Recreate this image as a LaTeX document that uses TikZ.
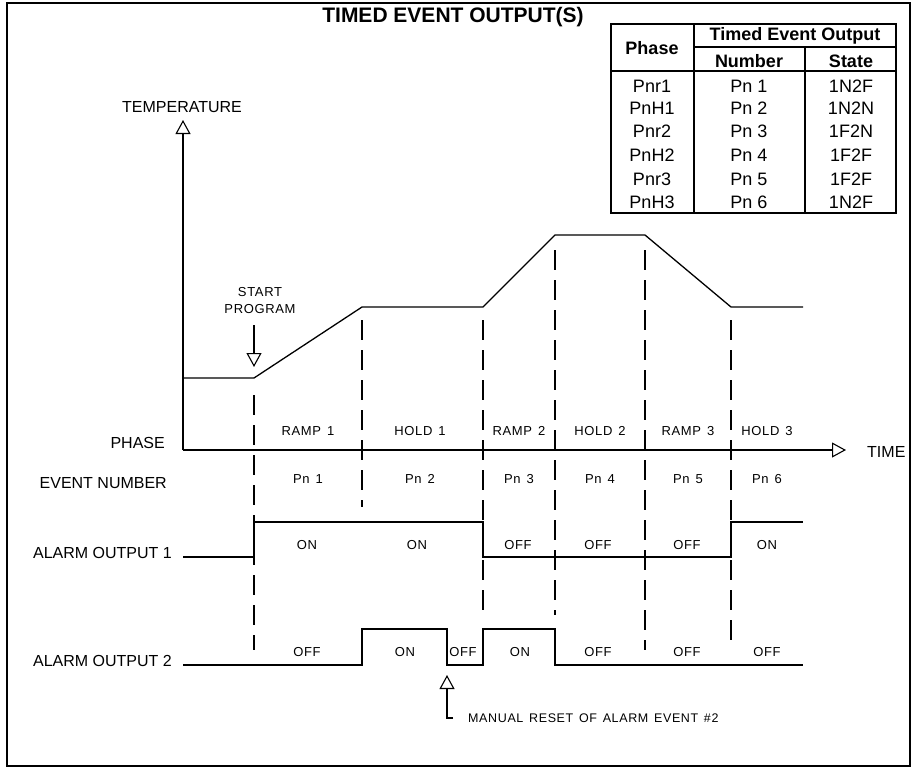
\documentclass[tikz,border=0pt]{standalone}
\usepackage{fontspec}
\setmainfont{Liberation Sans}
\newfontfamily\cadfont{Liberation Sans}[LetterSpace=5, WordSpace=1.4]
\usetikzlibrary{arrows.meta, positioning}
\tikzset{
  teo/line/.style   = {line width=1.3pt, line join=miter},
  teo/grid/.style   = {line width=1.1pt, dash pattern=on 20pt off 10pt},
  teo/arrow/.style  = {-{Triangle[open, length=14pt, width=15pt, line width=1.1pt]}, line width=1.2pt},
  teo/big/.style    = {font=\fontsize{16}{18}\selectfont, inner sep=0pt},
  teo/small/.style  = {font=\cadfont\fontsize{13}{15}\selectfont, inner sep=0pt},
  teo/note/.style   = {font=\cadfont\fontsize{12.5}{14}\selectfont, inner sep=0pt},
  teo/cell/.style   = {font=\fontsize{18}{20}\selectfont, inner sep=0pt},
  teo/head/.style   = {font=\fontsize{18}{20}\selectfont\bfseries, inner sep=0pt},
  teo/title/.style  = {font=\fontsize{21}{24}\selectfont\bfseries, inner sep=0pt},
}
\begin{document}
\begin{tikzpicture}[x=1pt, y=-1pt]
  \useasboundingbox (0,0) rectangle (914,769);
  % --- Time marks (phase boundaries) ---
  \def\xAxis {183}
  \def\xB    {254}
  \def\xC    {362}
  \def\xD    {483}
  \def\xE    {555}
  \def\xF    {645}
  \def\xG    {731}
  \def\xEnd  {803}
  \def\yAxis {450}
  % --- Outer frame and title ---
  \draw[line width=2.5pt] (7,3) rectangle (910,766);
  \node[teo/title] (title) at (453,17) {TIMED EVENT OUTPUT(S)};
  % --- Event table ---
  \draw[line width=2.4pt] (611,24) rectangle (896,213);
  \draw[line width=1.4pt] (694,24) -- (694,213);
  \draw[line width=1.4pt] (805,47) -- (805,213);
  \draw[line width=1.4pt] (694,47) -- (896,47);
  \draw[line width=1.4pt] (611,71) -- (896,71);
  \node[teo/head] (hPhase)  at (652,48) {Phase};
  \node[teo/head] (hTimed)  at (795,36) {Timed Event Output};
  \node[teo/head] (hNumber) at (749,61) {Number};
  \node[teo/head] (hState)  at (851,61) {State};
  \foreach \ph/\num/\st/\y [count=\i] in {Pnr1/Pn 1/1N2F/86, PnH1/Pn 2/1N2N/108, Pnr2/Pn 3/1F2N/131,
                                          PnH2/Pn 4/1F2F/155, Pnr3/Pn 5/1F2F/179, PnH3/Pn 6/1N2F/202}{
    \node[teo/cell] (tPh\i)  at (652,\y) {\ph};
    \node[teo/cell] (tNum\i) at (749,\y) {\num};
    \node[teo/cell] (tSt\i)  at (851,\y) {\st};
  }
  % --- Axes ---
  \coordinate (origin)  at (\xAxis,\yAxis);
  \coordinate (tempTip) at (\xAxis,120);
  \coordinate (timeTip) at (846,\yAxis);
  \draw[teo/arrow] (origin) -- (tempTip);
  \draw[teo/arrow] (origin) -- (timeTip);
  \node[teo/big] (temp) at (182,107) {TEMPERATURE};
  \node[teo/big, anchor=west] (time) at (867,452) {TIME};
  \node[teo/big, anchor=east] (phase) at (165,443) {PHASE};
  \node[teo/big, anchor=east] (event) at (167,483) {EVENT NUMBER};
  \node[teo/big, anchor=base east] (alarmA) at (172,558) {ALARM OUTPUT 1};
  \node[teo/big, anchor=base east] (alarmB) at (172,666) {ALARM OUTPUT 2};
  % --- Temperature profile ---
  \draw[teo/line] (\xAxis,378) -- (\xB,378) -- (\xC,307) -- (\xD,307) -- (\xE,235)
                  -- (\xF,235) -- (\xG,307) -- (\xEnd,307);
  % --- Start program marker ---
  \node[teo/small, align=center] (start) at (260,301) {START\\[2pt]PROGRAM};
  \coordinate (startFoot) at (\xB,325);
  \coordinate (startTip)  at (\xB,367);
  \draw[teo/arrow] (startFoot) -- (startTip);
  % --- Dashed phase boundaries ---
  \foreach \x/\ya/\yb in {\xB/395/650, \xC/320/507, \xD/320/615, \xE/250/615, \xF/250/650, \xG/320/650}
    \draw[teo/grid] (\x,\ya) -- (\x,\yb);
  % --- Phase names and event numbers ---
  \foreach \x/\t [count=\i] in {308/RAMP 1, 420/HOLD 1, 519/RAMP 2, 600/HOLD 2, 688/RAMP 3, 767/HOLD 3}
    \node[teo/small] (ph\i) at (\x,431) {\t};
  \foreach \x [count=\i] in {308, 420, 519, 600, 688, 767}
    \node[teo/small] (pn\i) at (\x,479) {Pn \i};
  % --- Alarm output 1 ---
  \draw[teo/line] (\xAxis,557) -- (\xB,557) -- (\xB,522) -- (\xD,522) -- (\xD,557)
                  -- (\xG,557) -- (\xG,522) -- (\xEnd,522);
  \foreach \x/\t [count=\i] in {307/ON, 417/ON, 518/OFF, 598/OFF, 687/OFF, 767/ON}
    \node[teo/small] (aA\i) at (\x,545) {\t};
  % --- Alarm output 2 ---
  \draw[teo/line] (\xAxis,665) -- (\xC,665) -- (\xC,629) -- (447,629) -- (447,665)
                  -- (\xD,665) -- (\xD,629) -- (\xE,629) -- (\xE,665) -- (\xEnd,665);
  \foreach \x/\t [count=\i] in {307/OFF, 405/ON, 463/OFF, 520/ON, 598/OFF, 687/OFF, 767/OFF}
    \node[teo/small] (aB\i) at (\x,652) {\t};
  % --- Manual reset marker ---
  \node[teo/note, anchor=west] (reset) at (468,718) {MANUAL RESET OF ALARM EVENT \#2};
  \coordinate (resetTip) at (447,675);
  \draw[teo/arrow] (453,718) -- (447,718) -- (resetTip);
\end{tikzpicture}
\end{document}
